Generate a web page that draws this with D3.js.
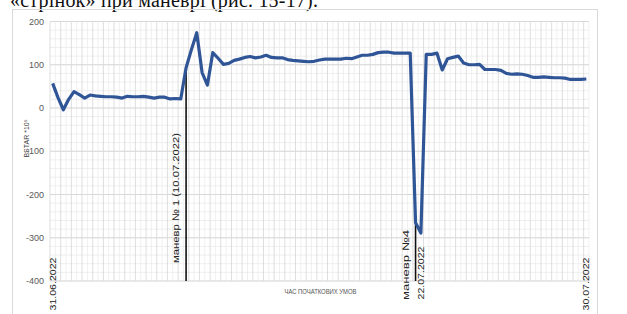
<!DOCTYPE html>
<html>
<head>
<meta charset="utf-8">
<script src="https://cdn.jsdelivr.net/npm/d3@7"></script>
<style>
  body { margin: 0; background: #fff; }
  svg { display: block; }
  .tick-label { font-family: "Liberation Sans Narrow", "Liberation Sans", sans-serif; font-size: 9px; fill: #595959; }
  .note { font-family: "Liberation Sans", sans-serif; font-size: 9.5px; fill: #222; }
</style>
</head>
<body>
<script>
// BSTAR values (x10^-5), one per initial-conditions epoch
const bstar = [
  57, 24, -4, 20, 38, 31, 23, 30, 28, 27,
  26, 26, 25, 23, 27, 26, 26, 27, 25, 23,
  25, 25, 21, 22, 21, 93, 135, 174, 82, 53,
  128, 115, 101, 103, 110, 113, 117, 119, 116, 118,
  122, 117, 116, 116, 112, 110, 109, 108, 107, 108,
  111, 113, 113, 113, 113, 115, 114, 118, 122, 122,
  124, 128, 129, 129, 127, 127, 127, 127, -265, -289,
  124, 124, 127, 88, 114, 117, 120, 104, 100, 100,
  101, 89, 89, 89, 87, 80, 78, 79, 78, 75,
  71, 71, 72, 71, 70, 70, 69, 66, 66, 66,
  67
];
const yTicks = [200, 100, 0, -100, -200, -300, -400];
const dateLabels = [
  { i: 0, text: "31.06.2022" },
  { i: 69, text: "22.07.2022" },
  { i: 100, text: "30.07.2022" }
];
const manoeuvres = [
  { i: 25, text: "маневр № 1 (10.07.2022)" },
  { i: 68, text: "маневр №4" }
];
const xTitle = "ЧАС ПОЧАТКОВИХ УМОВ";
const yTitle = "BSTAR *10⁵";
const caption = "«стрінок» при маневрі (рис. 15-17).";

const width = 627, height = 314;
const margin = { top: 21.5, right: 38, bottom: 33, left: 50 };

const svg = d3.select("body").append("svg")
    .attr("width", width)
    .attr("height", height);

// caption of the page (the reference cuts it at the top edge)
svg.append("text")
    .attr("x", 10)
    .attr("y", 7)
    .attr("font-family", "Liberation Serif, serif")
    .attr("font-size", 20)
    .attr("fill", "#111")
    .attr("textLength", 308)
    .text(caption);

// chart frame
svg.append("rect")
    .attr("x", 12.5).attr("y", 9.5)
    .attr("width", 585).attr("height", 305)
    .attr("fill", "none")
    .attr("stroke", "#d9d9d9");

const x = d3.scaleBand()
    .domain(d3.range(bstar.length))
    .range([margin.left, width - margin.right]);
const xc = i => x(i) + x.bandwidth() / 2;

const y = d3.scaleLinear()
    .domain([-400, 200])
    .range([height - margin.bottom, margin.top]);

// minor horizontal grid
svg.append("g")
  .selectAll("line")
  .data(d3.range(-400, 201, 20))
  .join("line")
    .attr("x1", margin.left).attr("x2", width - margin.right)
    .attr("y1", d => y(d)).attr("y2", d => y(d))
    .attr("stroke", "#efefef");

// vertical grid, one line per category boundary
svg.append("g")
  .selectAll("line")
  .data(d3.range(bstar.length + 1))
  .join("line")
    .attr("x1", i => i < bstar.length ? x(i) : x.range()[1])
    .attr("x2", i => i < bstar.length ? x(i) : x.range()[1])
    .attr("y1", y(200)).attr("y2", y(-400))
    .attr("stroke", i => i % 2 ? "#ececec" : "#d6d6d6")
    .attr("stroke-width", 0.8);

// major horizontal grid
svg.append("g")
  .selectAll("line")
  .data(yTicks)
  .join("line")
    .attr("x1", margin.left).attr("x2", width - margin.right)
    .attr("y1", d => y(d)).attr("y2", d => y(d))
    .attr("stroke", "#d9d9d9")
    .attr("stroke-width", 1.2);

// y tick labels
svg.append("g")
  .selectAll("text")
  .data(yTicks)
  .join("text")
    .attr("class", "tick-label")
    .attr("x", 44)
    .attr("y", d => y(d) + 3)
    .attr("text-anchor", "end")
    .text(d => d);

// y title
svg.append("text")
    .attr("transform", `translate(29,${(120 + 157) / 2}) rotate(-90)`)
    .attr("text-anchor", "middle")
    .attr("font-family", "Liberation Sans, sans-serif")
    .attr("font-size", 7)
    .attr("fill", "#444")
    .text(yTitle);

// x title
svg.append("text")
    .attr("x", (margin.left + width - margin.right) / 2 + 1)
    .attr("y", 294)
    .attr("text-anchor", "middle")
    .attr("font-family", "Liberation Sans Narrow, Liberation Sans, sans-serif")
    .attr("font-size", 8)
    .attr("fill", "#555")
    .attr("textLength", 72)
    .attr("lengthAdjust", "spacingAndGlyphs")
    .text(xTitle);

// date labels along the x axis
svg.append("g")
  .selectAll("text")
  .data(dateLabels)
  .join("text")
    .attr("class", "note")
    .attr("transform", (d, k) => `translate(${xc(d.i) + 3},${k === 1 ? 273 : 284}) rotate(-90)`)
    .attr("text-anchor", "middle")
    .attr("textLength", 53)
    .attr("lengthAdjust", "spacingAndGlyphs")
    .attr("fill", "#333")
    .text(d => d.text);

// manoeuvre markers
manoeuvres.forEach((m, k) => {
  svg.append("line")
      .attr("x1", xc(m.i)).attr("x2", xc(m.i))
      .attr("y1", y(bstar[m.i])).attr("y2", y(-400))
      .attr("stroke", "#111")
      .attr("stroke-width", 1.6);
  const len = k === 0 ? 130 : 70;
  const cy = k === 0 ? 198 : 265;
  svg.append("text")
      .attr("class", "note")
      .attr("transform", `translate(${xc(m.i) - 7},${cy}) rotate(-90)`)
      .attr("text-anchor", "middle")
      .attr("textLength", len)
      .attr("lengthAdjust", "spacingAndGlyphs")
      .text(m.text);
});

// data line
const line = d3.line()
    .x((d, i) => xc(i))
    .y(d => y(d));

svg.append("path")
    .datum(bstar)
    .attr("d", line)
    .attr("fill", "none")
    .attr("stroke", "#2f5597")
    .attr("stroke-width", 3.2)
    .attr("stroke-linejoin", "round");
</script>
</body>
</html>
